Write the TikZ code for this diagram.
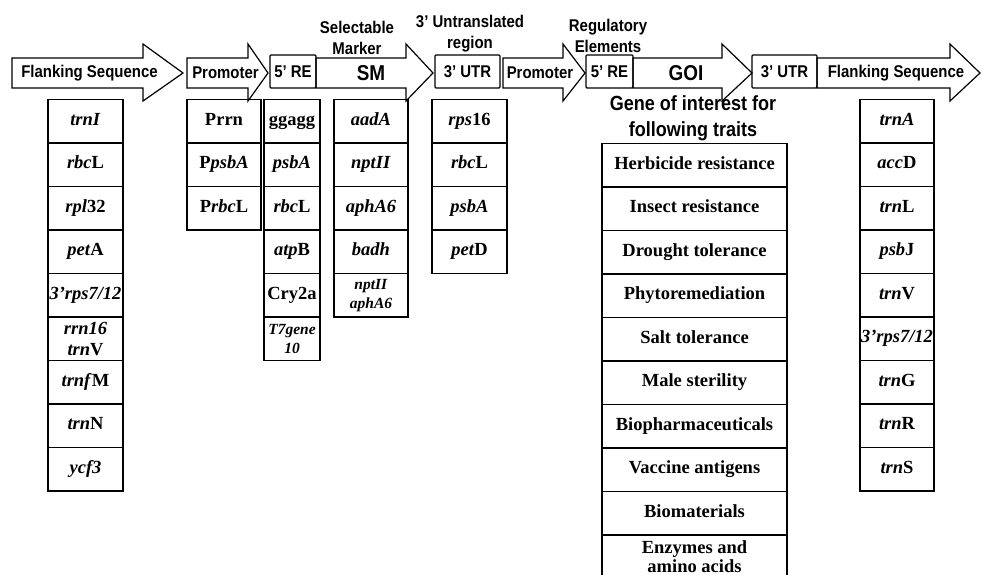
\documentclass[tikz,border=0pt]{standalone}
\usepackage{fontspec}
\setmainfont{Liberation Serif}
\newfontfamily\arialfont[FakeStretch=0.88]{Liberation Sans}
\newcommand{\genearrow}[3]{\draw[arrowline] (#1,58) -- (#2,58) -- (#2,44) -- (#3,73) -- (#2,101) -- (#2,88) -- (#1,88) -- cycle;}

\begin{document}
\begin{tikzpicture}[x=1pt,y=-1pt,
   arrowline/.style={line width=1.2pt,line join=miter},
   lab/.style={font=\arialfont\fontsize{17}{21}\selectfont\bfseries,inner sep=0pt,align=center},
   biglab/.style={font=\arialfont\fontsize{21.5}{24}\selectfont\bfseries,inner sep=0pt},
   rebox/.style={draw,line width=1.2pt,rounded corners=1pt,minimum height=33pt,inner sep=0pt,text height=12pt,text depth=0pt,font=\arialfont\fontsize{17}{21}\selectfont\bfseries},
   cell/.style={draw,line width=1.1pt,minimum width=#1,minimum height=43.5pt,inner sep=1pt,align=center,text height=12pt,text depth=4pt,font=\fontsize{18.5}{21}\selectfont\bfseries},
   twoline/.style={text height=,text depth=},
   small/.style={twoline,font=\fontsize{15.5}{19}\selectfont\bfseries}]
\clip (0,0) rectangle (982,575);
%
% cassette
\genearrow{12}{143}{183}
\genearrow{187}{248}{268}
\genearrow{316}{406}{433}
\genearrow{503}{563}{585}
\genearrow{633}{722}{752}
\genearrow{817}{950}{980}
%
\node [lab] at (89.5,73) (flank a) {Flanking Sequence};
\node [lab] at (225.5,73) (prom a) {Promoter};
\node [rebox,minimum width=46pt] at (293,71.5) (re a) {5’ RE};
\node [biglab] at (371,73) (sm) {SM};
\node [rebox,minimum width=65pt] at (467.5,71.5) (utr a) {3’ UTR};
\node [lab] at (540,73) (prom b) {Promoter};
\node [rebox,minimum width=47pt] at (609.5,71.5) (re b) {5’ RE};
\node [biglab] at (686,73) (goi) {GOI};
\node [rebox,minimum width=65pt] at (784.5,71.5) (utr b) {3’ UTR};
\node [lab] at (896,73) (flank b) {Flanking Sequence};
%
\node [lab] at (357,38) (sm head) {Selectable\\Marker};
\node [lab] at (470,34) (utr head) {3’ Untranslated\\region};
\node [lab] at (608,35.5) (re head) {Regulatory\\Elements};
\node [lab,font=\arialfont\fontsize{20.5}{26}\selectfont\bfseries] at (693,118) (goi head) {Gene of interest for\\following traits};
%
% flanking sequence (left)
\node [cell=75pt] at (85.5,121.25) (fa1) {\textit{trnI}};
\node [cell=75pt] at (85.5,164.75) (fa2) {\textit{rbc}L};
\node [cell=75pt] at (85.5,208.25) (fa3) {\textit{rpl}32};
\node [cell=75pt] at (85.5,251.75) (fa4) {\textit{pet}A};
\node [cell=75pt] at (85.5,295.25) (fa5) {\textit{3’rps7/12}};
\node [cell=75pt,twoline] at (85.5,338.75) (fa6) {\textit{rrn16}\\\textit{trn}V};
\node [cell=75pt] at (85.5,382.25) (fa7) {\textit{trnf}M};
\node [cell=75pt] at (85.5,425.75) (fa8) {\textit{trn}N};
\node [cell=75pt] at (85.5,469.25) (fa9) {\textit{ycf3}};
%
% promoter
\node [cell=74pt] at (224,121.25) (pr1) {Prrn};
\node [cell=74pt] at (224,164.75) (pr2) {P\textit{psbA}};
\node [cell=74pt] at (224,208.25) (pr3) {P\textit{rbc}L};
%
% 5' regulatory elements
\node [cell=56pt] at (292,121.25) (re1) {ggagg};
\node [cell=56pt] at (292,164.75) (re2) {\textit{psbA}};
\node [cell=56pt] at (292,208.25) (re3) {\textit{rbc}L};
\node [cell=56pt] at (292,251.75) (re4) {\textit{atp}B};
\node [cell=56pt] at (292,295.25) (re5) {Cry2a};
\node [cell=56pt,small] at (292,338.75) (re6) {\textit{T7gene}\\\textit{10}};
%
% selectable marker
\node [cell=74pt] at (371,121.25) (sm1) {\textit{aadA}};
\node [cell=74pt] at (371,164.75) (sm2) {\textit{nptII}};
\node [cell=74pt] at (371,208.25) (sm3) {\textit{aphA6}};
\node [cell=74pt] at (371,251.75) (sm4) {\textit{badh}};
\node [cell=74pt,small] at (371,295.25) (sm5) {\textit{nptII}\\\textit{aphA6}};
%
% 3' UTR
\node [cell=75pt] at (469.5,121.25) (ut1) {\textit{rps}16};
\node [cell=75pt] at (469.5,164.75) (ut2) {\textit{rbc}L};
\node [cell=75pt] at (469.5,208.25) (ut3) {\textit{psbA}};
\node [cell=75pt] at (469.5,251.75) (ut4) {\textit{pet}D};
%
% traits
\node [cell=185pt] at (694.5,165.25) (tr1) {Herbicide resistance};
\node [cell=185pt] at (694.5,208.75) (tr2) {Insect resistance};
\node [cell=185pt] at (694.5,252.25) (tr3) {Drought tolerance};
\node [cell=185pt] at (694.5,295.75) (tr4) {Phytoremediation};
\node [cell=185pt] at (694.5,339.25) (tr5) {Salt tolerance};
\node [cell=185pt] at (694.5,382.75) (tr6) {Male sterility};
\node [cell=185pt] at (694.5,426.25) (tr7) {Biopharmaceuticals};
\node [cell=185pt] at (694.5,469.75) (tr8) {Vaccine antigens};
\node [cell=185pt] at (694.5,513.25) (tr9) {Biomaterials};
\node [cell=185pt,twoline,font=\fontsize{18.5}{19.5}\selectfont\bfseries] at (694.5,556.75) (tr10) {Enzymes and\\amino acids};
%
% flanking sequence (right)
\node [cell=74pt] at (897,121.25) (fb1) {\textit{trnA}};
\node [cell=74pt] at (897,164.75) (fb2) {\textit{acc}D};
\node [cell=74pt] at (897,208.25) (fb3) {\textit{trn}L};
\node [cell=74pt] at (897,251.75) (fb4) {\textit{psb}J};
\node [cell=74pt] at (897,295.25) (fb5) {\textit{trn}V};
\node [cell=74pt] at (897,338.75) (fb6) {\textit{3’rps7/12}};
\node [cell=74pt] at (897,382.25) (fb7) {\textit{trn}G};
\node [cell=74pt] at (897,425.75) (fb8) {\textit{trn}R};
\node [cell=74pt] at (897,469.25) (fb9) {\textit{trn}S};

\end{tikzpicture}
\end{document}
